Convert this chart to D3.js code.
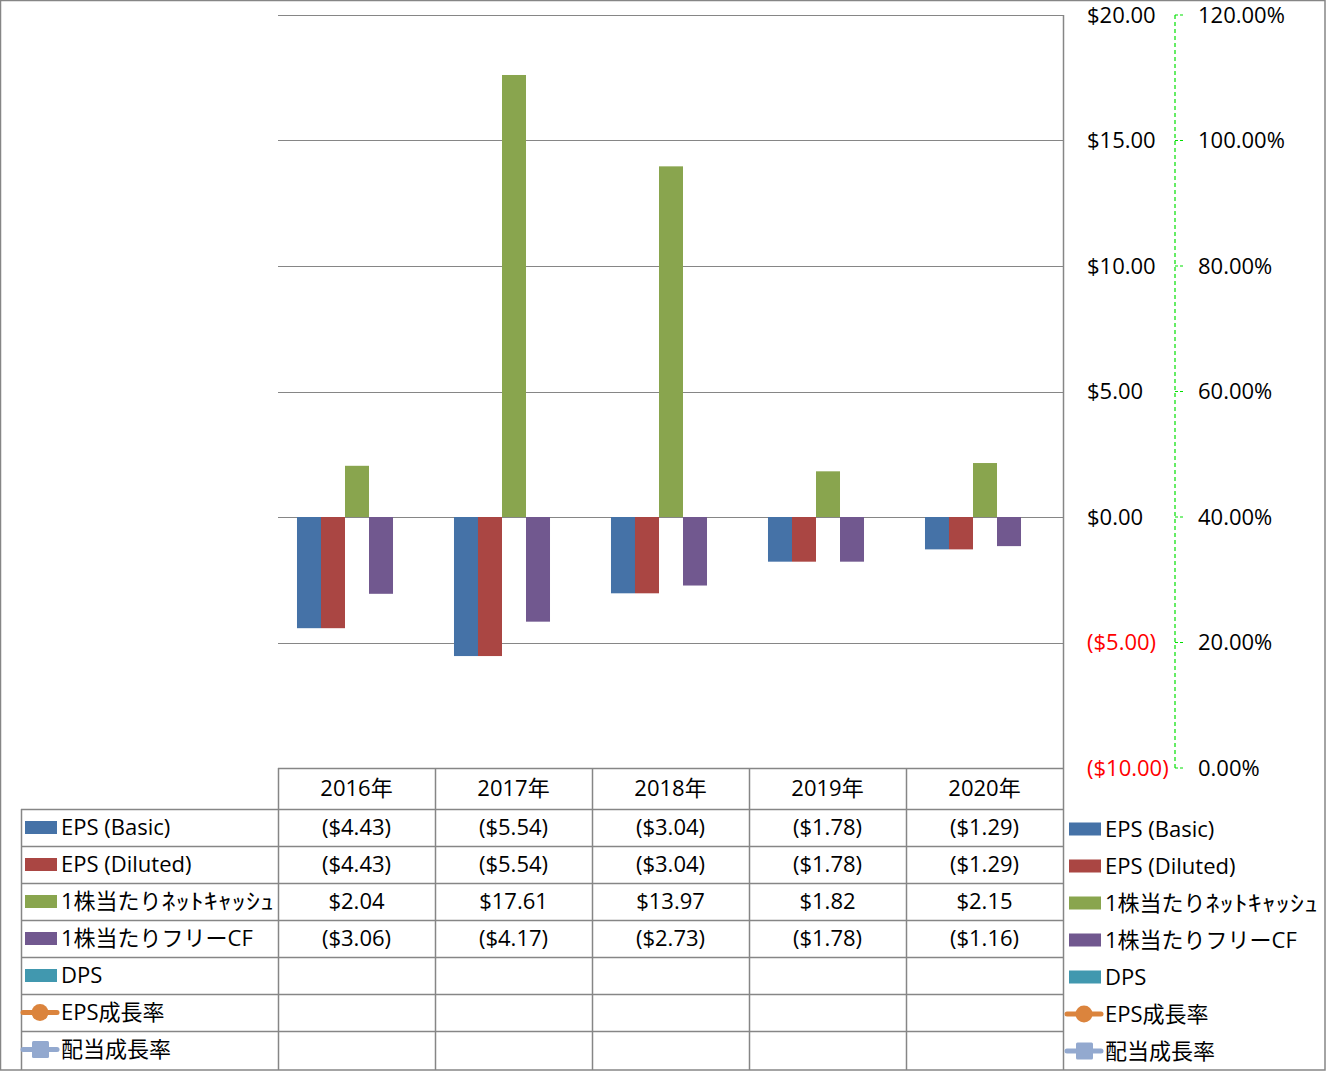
<!DOCTYPE html>
<html lang="ja">
<head>
<meta charset="UTF-8">
<title>EPS chart</title>
<script src="https://d3js.org/d3.v7.min.js"></script>
<style>
  body { margin: 0; background: #fff; }
  text { font-family: "Open Sans", "Noto Sans CJK JP", sans-serif; font-size: 22px; fill: #000; }
</style>
</head>
<body>
<script>
    // data
    var years = ["2016年", "2017年", "2018年", "2019年", "2020年"];
    var seriesNames = ["EPS (Basic)", "EPS (Diluted)", "1株当たりﾈｯﾄｷｬｯｼｭ", "1株当たりフリーCF", "DPS", "EPS成長率", "配当成長率"];
    var seriesKinds = ["bar", "bar", "bar", "bar", "bar", "line", "line"];
    var seriesColors = ["#4572A7", "#AA4643", "#89A54E", "#71588F", "#4198AF", "#DB843D", "#93A9CF"];
    var epsBasic = [-4.43, -5.54, -3.04, -1.78, -1.29];
    var epsDiluted = [-4.43, -5.54, -3.04, -1.78, -1.29];
    var netCash = [2.04, 17.61, 13.97, 1.82, 2.15];
    var freeCF = [-3.06, -4.17, -2.73, -1.78, -1.16];
    var dps = [null, null, null, null, null];
    var epsGrowth = [null, null, null, null, null];
    var divGrowth = [null, null, null, null, null];
    var seriesValues = [epsBasic, epsDiluted, netCash, freeCF, dps, epsGrowth, divGrowth];
    var leftTicks = [-10, -5, 0, 5, 10, 15, 20];
    var rightTicks = [0, 0.2, 0.4, 0.6, 0.8, 1.0, 1.2];

    var width = 1326, height = 1071;
    var gridColor = "#868686";
    var plotL = 278, plotR = 1063, plotT = 15, plotB = 768;
    var tableL = 21, tableTop = 809, tableB = 1070;

    var svg = d3.select("body").append("svg")
        .attr("width", width)
        .attr("height", height);

    // outer frame
    svg.append("rect")
        .attr("x", 0.5).attr("y", 0.5)
        .attr("width", width - 1.5).attr("height", height - 1.5)
        .attr("fill", "#fff").attr("stroke", gridColor).attr("stroke-width", 1.5);

    var x = d3.scaleBand().domain(years).range([plotL, plotR]);
    var barNames = seriesNames.filter(function(d, i) { return seriesKinds[i] === "bar"; });
    var xInner = d3.scaleBand().domain(barNames)
        .range([0, x.bandwidth()]).paddingInner(0).paddingOuter(0.77);
    var y = d3.scaleLinear().domain([-10, 20]).range([plotB, plotT]);
    var y2 = d3.scaleLinear().domain([0, 1.2]).range([plotB, plotT]);

    var money = function(v) {
        var s = "$" + d3.format(".2f")(Math.abs(v));
        return v < 0 ? "(" + s + ")" : s;
    };

    // gridlines
    svg.append("g").selectAll("line")
        .data(leftTicks.filter(function(d) { return d > -10; }))
        .enter().append("line")
        .attr("x1", plotL).attr("x2", plotR)
        .attr("y1", function(d) { return Math.round(y(d)) + 0.5; })
        .attr("y2", function(d) { return Math.round(y(d)) + 0.5; })
        .attr("stroke", gridColor).attr("stroke-width", 1.2);

    // bars
    var barG = svg.append("g");
    seriesValues.forEach(function(vals, si) {
        if (seriesKinds[si] !== "bar") return;
        barG.selectAll(".s" + si)
            .data(vals.map(function(v, i) { return { v: v, year: years[i] }; })
                .filter(function(d) { return d.v !== null; }))
            .enter().append("rect")
            .attr("x", function(d) { return x(d.year) + xInner(seriesNames[si]) + 0.5; })
            .attr("width", xInner.bandwidth())
            .attr("y", function(d) { return y(Math.max(0, d.v)); })
            .attr("height", function(d) { return Math.abs(y(d.v) - y(0)); })
            .attr("fill", seriesColors[si]);
    });

    // right value axis line
    svg.append("line")
        .attr("x1", plotR + 0.5).attr("x2", plotR + 0.5)
        .attr("y1", plotT).attr("y2", tableB)
        .attr("stroke", gridColor).attr("stroke-width", 1.5);

    // primary tick labels
    svg.append("g").selectAll("text")
        .data(leftTicks).enter().append("text")
        .attr("x", 1087)
        .attr("y", function(d) { return y(d); })
        .attr("dy", "0.35em")
        .style("fill", function(d) { return d < 0 ? "#FF0000" : "#000"; })
        .text(money);

    // secondary axis (dashed green)
    var axis2 = svg.append("g");
    axis2.append("line")
        .attr("x1", 1175).attr("x2", 1175)
        .attr("y1", plotT).attr("y2", plotB)
        .attr("stroke", "#00E000").attr("stroke-width", 1.2)
        .attr("stroke-dasharray", "4,3");
    axis2.selectAll(".tk").data(rightTicks).enter().append("line")
        .attr("x1", 1175).attr("x2", 1183)
        .attr("y1", function(d) { return y2(d); })
        .attr("y2", function(d) { return y2(d); })
        .attr("stroke", "#00E000").attr("stroke-width", 1.2)
        .attr("stroke-dasharray", "3,2");
    axis2.selectAll("text").data(rightTicks).enter().append("text")
        .attr("x", 1198)
        .attr("y", function(d) { return y2(d); })
        .attr("dy", "0.35em")
        .text(function(d) { return d3.format(".2%")(d); });

    // data table
    var rowY = d3.scaleBand().domain(seriesNames).range([tableTop, tableTop + 37 * seriesNames.length]);
    var tbl = svg.append("g");
    var hline = function(x1, x2, yy) {
        tbl.append("line").attr("x1", x1).attr("x2", x2)
            .attr("y1", yy).attr("y2", yy)
            .attr("stroke", gridColor).attr("stroke-width", 1.5);
    };
    var vline = function(xx, y1, y2v) {
        tbl.append("line").attr("x1", xx).attr("x2", xx)
            .attr("y1", y1).attr("y2", y2v)
            .attr("stroke", gridColor).attr("stroke-width", 1.5);
    };
    hline(plotL, plotR, plotB + 0.5);
    seriesNames.forEach(function(n) { hline(tableL, plotR, Math.round(rowY(n)) + 0.5); });
    vline(tableL + 0.5, tableTop, tableB);
    years.forEach(function(yr) { vline(Math.round(x(yr)) + 0.5, plotB, tableB); });

    tbl.selectAll(".yr").data(years).enter().append("text")
        .attr("x", function(d) { return x(d) + x.bandwidth() / 2; })
        .attr("y", (plotB + tableTop) / 2)
        .attr("dy", "0.35em")
        .attr("text-anchor", "middle")
        .text(function(d) { return d; });

    seriesValues.forEach(function(vals, si) {
        var cy = rowY(seriesNames[si]) + rowY.bandwidth() / 2;
        vals.forEach(function(v, i) {
            if (v === null) return;
            tbl.append("text")
                .attr("x", x(years[i]) + x.bandwidth() / 2)
                .attr("y", cy).attr("dy", "0.35em")
                .attr("text-anchor", "middle")
                .text(money(v));
        });
    });

    // legend keys (table rows and right legend)
    function drawKey(g, kx, cy, si) {
        var c = seriesColors[si];
        if (seriesKinds[si] === "bar") {
            g.append("rect").attr("x", kx + 3).attr("y", cy - 6.5)
                .attr("width", 32).attr("height", 13).attr("fill", c);
        } else {
            g.append("line").attr("x1", kx + 1).attr("x2", kx + 35)
                .attr("y1", cy).attr("y2", cy)
                .attr("stroke", c).attr("stroke-width", 5).attr("stroke-linecap", "round");
            if (si === 5) {
                g.append("circle").attr("cx", kx + 18).attr("cy", cy).attr("r", 8.5).attr("fill", c);
            } else {
                g.append("rect").attr("x", kx + 10).attr("y", cy - 8.5)
                    .attr("width", 17).attr("height", 17).attr("rx", 1.5).attr("fill", c);
            }
        }
        var name = seriesNames[si];
        var hw = name.search(/[\uFF61-\uFF9F]/);
        if (hw > 0) {
            // half-width katakana is wider in the original font: stretch only that part
            var t1 = g.append("text").attr("x", kx + 39).attr("y", cy).attr("dy", "0.35em")
                .text(name.slice(0, hw));
            var w1 = t1.node().getComputedTextLength();
            g.append("text").attr("x", kx + 39 + w1).attr("y", cy).attr("dy", "0.35em")
                .attr("textLength", 213 - w1).attr("lengthAdjust", "spacingAndGlyphs")
                .text(name.slice(hw));
        } else {
            g.append("text").attr("x", kx + 39).attr("y", cy).attr("dy", "0.35em")
                .text(name);
        }
    }
    seriesNames.forEach(function(n, si) {
        drawKey(tbl, 22, rowY(n) + rowY.bandwidth() / 2, si);
        drawKey(svg, 1066, rowY(n) + rowY.bandwidth() / 2 + 1.5, si);
    });
</script>
</body>
</html>
